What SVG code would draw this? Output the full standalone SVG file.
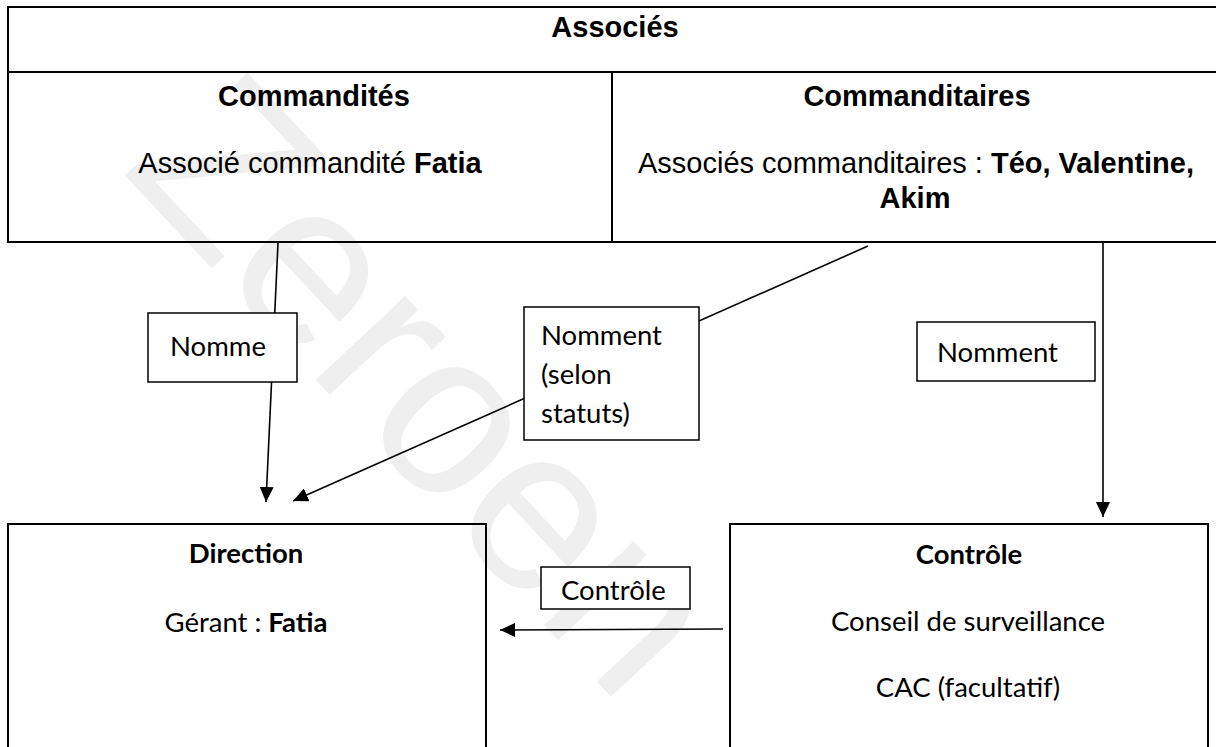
<svg xmlns="http://www.w3.org/2000/svg" width="1216" height="747" viewBox="0 0 1216 747">
<style>
.ar{font-family:"Liberation Sans",Arial,sans-serif;font-size:29px;fill:#000}
.ca{font-family:Lato,"Open Sans",sans-serif;font-size:27.5px;fill:#000}
.b{font-weight:bold}
.tl{stroke:#000;stroke-width:2;fill:none}
.box{stroke:#000;stroke-width:2;fill:none}
.lbl{stroke:#000;stroke-width:1.5;fill:#fff}
.con{stroke:#000;stroke-width:1.6;fill:none}
.wm{font-family:"Liberation Sans",Arial,sans-serif;font-size:232px;fill:#efefef}
</style>
<defs>
<marker id="arr" markerUnits="userSpaceOnUse" markerWidth="16" markerHeight="14" refX="15" refY="7" orient="auto">
<path d="M0,0 L15,7 L0,14 z" fill="#000"/>
</marker>
</defs>
<rect width="1216" height="747" fill="#fff"/>
<text class="wm" x="120" y="170" transform="rotate(47 120 170)">Zeroen</text>

<g id="associes">
<line class="tl" x1="8" y1="7" x2="1216" y2="7"/>
<line class="tl" x1="8" y1="6" x2="8" y2="243"/>
<line class="tl" x1="8" y1="72" x2="1216" y2="72"/>
<line class="tl" x1="8" y1="242" x2="1216" y2="242"/>
<text class="ar b" x="615" y="37" text-anchor="middle">Associés</text>
</g>
<g id="commandites">
<line class="tl" x1="612" y1="72" x2="612" y2="242"/>
<text class="ar b" x="314" y="106" text-anchor="middle">Commandités</text>
<text class="ar" x="310" y="173" text-anchor="middle">Associé commandité <tspan class="b">Fatia</tspan></text>
</g>
<g id="commanditaires">
<text class="ar b" x="917" y="106" text-anchor="middle">Commanditaires</text>
<text class="ar" x="916" y="173" text-anchor="middle">Associés commanditaires : <tspan class="b">Téo, Valentine,</tspan></text>
<text class="ar b" x="915" y="208" text-anchor="middle">Akim</text>
</g>

<g id="connectors">
<line class="con" x1="278" y1="243" x2="266" y2="502" marker-end="url(#arr)"/>
<line class="con" x1="868" y1="246" x2="293" y2="501" marker-end="url(#arr)"/>
<line class="con" x1="1103" y1="243" x2="1103" y2="517" marker-end="url(#arr)"/>
<line class="con" x1="723" y1="629" x2="500" y2="630" marker-end="url(#arr)"/>
</g>

<g id="label-nomme">
<rect class="lbl" x="148" y="313" width="149" height="69"/>
<text class="ca" x="170" y="356">Nomme</text>
</g>
<g id="label-nomment-statuts">
<rect class="lbl" x="524" y="307" width="175" height="133"/>
<text class="ca" x="541" y="345">Nomment</text>
<text class="ca" x="541" y="384">(selon</text>
<text class="ca" x="541" y="423">statuts)</text>
</g>
<g id="label-nomment">
<rect class="lbl" x="917" y="322" width="178" height="59"/>
<text class="ca" x="937" y="362">Nomment</text>
</g>
<g id="label-controle">
<rect class="lbl" x="541" y="567" width="149" height="42"/>
<text class="ca" x="561" y="600">Contrôle</text>
</g>

<g id="direction">
<rect class="box" x="8" y="524" width="478" height="240"/>
<text class="ca b" x="246" y="563" text-anchor="middle">Direction</text>
<text class="ca" x="246" y="632" text-anchor="middle">Gérant : <tspan class="b">Fatia</tspan></text>
</g>
<g id="controle">
<rect class="box" x="730" y="524" width="478" height="240"/>
<text class="ca b" x="969" y="564" text-anchor="middle">Contrôle</text>
<text class="ca" x="968" y="631" text-anchor="middle">Conseil de surveillance</text>
<text class="ca" x="968" y="697" text-anchor="middle">CAC (facultatif)</text>
</g>
</svg>
